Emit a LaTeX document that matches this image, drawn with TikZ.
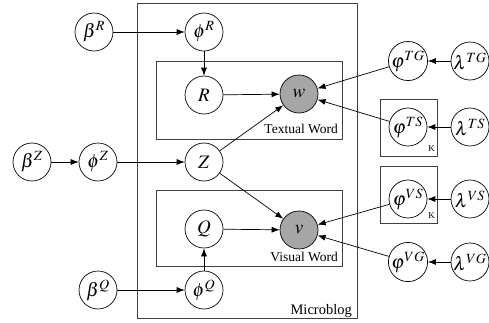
\documentclass[tikz,border=0pt]{standalone}
\usepackage{mathptmx}
\usepackage{fontspec}
\setmainfont{Liberation Serif}
\usetikzlibrary{arrows.meta}

\begin{document}
\begin{tikzpicture}[x=1pt,y=-1pt,
  var/.style={draw, circle, minimum size=38pt, inner sep=0pt, line width=0.7pt,
    font=\fontsize{19}{22}\selectfont},
  obs/.style={var, fill=black!35},
  plate/.style={draw=black!75, line width=0.8pt},
  edge/.style={-{Latex[length=8pt,width=6pt]}, line width=0.7pt},
  lbl/.style={anchor=base east, inner sep=0pt, font=\fontsize{13.5}{15}\selectfont}]
  \useasboundingbox (0,0) rectangle (489,322);

  % plates
  \draw[plate] (137,3) rectangle (357,318);
  \draw[plate] (156,61) rectangle (342,139);
  \draw[plate] (156,190) rectangle (342,266);
  \draw[plate] (380,99) rectangle (437,156);
  \draw[plate] (380,166) rectangle (437,223);
  \node[lbl] at (338,133) {Textual Word};
  \node[lbl] at (338,261) {Visual Word};
  \node[lbl, font=\fontsize{14.5}{16}\selectfont] at (352,314) {Microblog};
  \node[lbl, font=\fontsize{9}{10}\selectfont] at (435,151) {K};
  \node[lbl, font=\fontsize{9}{10}\selectfont] at (435,218) {K};

  % left side
  \node[var] (bR) at (94,32) {$\beta^{R}$};
  \node[var] (phiR) at (204,32) {$\phi^{R}$};
  \node[var] (R) at (204,95) {$R$};
  \node[var] (bZ) at (32,162) {$\beta^{Z}$};
  \node[var] (phiZ) at (98,162) {$\phi^{Z}$};
  \node[var] (Z) at (204,162) {$Z$};
  \node[var] (Q) at (204,229) {$Q$};
  \node[var] (bQ) at (98,290) {$\beta^{Q}$};
  \node[var] (phiQ) at (204,290) {$\phi^{Q}$};

  % observed words
  \node[obs] (w) at (299,94) {$w$};
  \node[obs] (v) at (299,230) {$v$};

  % right side
  \node[var] (phiTG) at (408,61) {$\varphi^{TG}$};
  \node[var] (lTG) at (470,61) {$\lambda^{TG}$};
  \node[var] (phiTS) at (408,127) {$\varphi^{TS}$};
  \node[var] (lTS) at (470,127) {$\lambda^{TS}$};
  \node[var] (phiVS) at (408,199) {$\varphi^{VS}$};
  \node[var] (lVS) at (470,199) {$\lambda^{VS}$};
  \node[var] (phiVG) at (408,262) {$\varphi^{VG}$};
  \node[var] (lVG) at (470,262) {$\lambda^{VG}$};

  % edges
  \draw[edge] (bR) -- (phiR);
  \draw[edge] (phiR) -- (R);
  \draw[edge] (R) -- (w);
  \draw[edge] (bZ) -- (phiZ);
  \draw[edge] (phiZ) -- (Z);
  \draw[edge] (Z) -- (w);
  \draw[edge] (Z) -- (v);
  \draw[edge] (Q) -- (v);
  \draw[edge] (phiQ) -- (Q);
  \draw[edge] (bQ) -- (phiQ);
  \draw[edge] (phiTG) -- (w);
  \draw[edge] (phiTS) -- (w);
  \draw[edge] (phiVS) -- (v);
  \draw[edge] (phiVG) -- (v);
  \draw[edge] (lTG) -- (phiTG);
  \draw[edge] (lTS) -- (phiTS);
  \draw[edge] (lVS) -- (phiVS);
  \draw[edge] (lVG) -- (phiVG);
\end{tikzpicture}
\end{document}
